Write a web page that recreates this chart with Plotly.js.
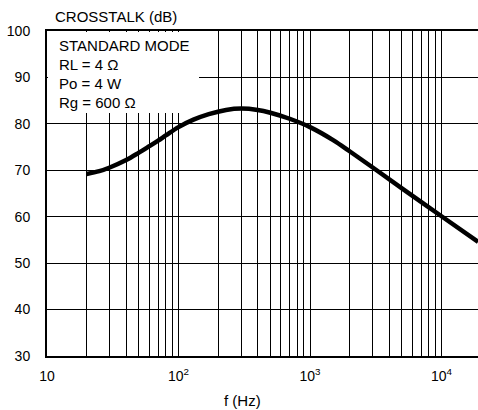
<!DOCTYPE html>
<html>
<head>
<meta charset="utf-8">
<script src="https://cdn.plot.ly/plotly-3.0.1.min.js"></script>
<style>html,body{margin:0;padding:0;background:#fff;}#chart{width:478px;height:410px;}</style>
</head>
<body>
<div id="chart"></div>
<script>
// Data
var freqHz = [20, 25, 30, 40, 50, 60, 70, 80, 100, 130, 170, 230, 300, 400, 500, 700, 1000, 1500, 2000, 3000, 5000, 10000, 19000];
var crosstalkDb = [69.2, 69.8, 70.6, 72.2, 73.8, 75.2, 76.4, 77.5, 79.3, 80.9, 82.1, 83.0, 83.3, 83.0, 82.4, 81.1, 79.3, 76.5, 74.1, 70.6, 66.1, 60.1, 54.6];

var xGridVals = [];
[10, 100, 1000, 10000].forEach(function (d) {
  for (var m = 1; m <= 9; m++) xGridVals.push(d * m);
});
var xTickLabels = {10: "10", 100: "10<sup>2</sup>", 1000: "10<sup>3</sup>", 10000: "10<sup>4</sup>"};
var xTickText = xGridVals.map(function (v) { return xTickLabels[v] || ""; });
var yTickVals = [30, 40, 50, 60, 70, 80, 90, 100];

var infoLines = ["STANDARD MODE", "RL = 4 \u03A9", "Po = 4 W", "Rg = 600 \u03A9"];
var infoCentersPx = [45, 64.5, 83.5, 102.5];

var FONT = "Liberation Sans, Arial, Helvetica, sans-serif";
var L = 47, R = 478, T = 31, B = 356;
function px2x(px) { return (px - L) / (R - L); }
function px2y(py) { return (B - py) / (B - T); }

var annotations = [{
  text: " ", xref: "paper", yref: "paper", x: px2x(48.2), y: px2y(32.2),
  xanchor: "left", yanchor: "top", showarrow: false,
  width: 150.5, height: 80.5, bgcolor: "#fff", borderpad: 0, borderwidth: 0
}];
infoLines.forEach(function (t, i) {
  annotations.push({text: t, xref: "paper", yref: "paper", x: px2x(57), y: px2y(infoCentersPx[i]),
    xanchor: "left", yanchor: "middle", showarrow: false, font: {family: FONT, size: 15, color: "#000"}});
});
annotations.push({text: "CROSSTALK (dB)", xref: "paper", yref: "paper", x: px2x(53), y: px2y(16.5),
  xanchor: "left", yanchor: "middle", showarrow: false, font: {family: FONT, size: 15, color: "#000"}});
annotations.push({text: "f (Hz)", xref: "paper", yref: "paper", x: px2x(242), y: px2y(400.5),
  xanchor: "center", yanchor: "middle", showarrow: false, font: {family: FONT, size: 15, color: "#000"}});

var trace = {
  x: freqHz, y: crosstalkDb, type: "scatter", mode: "lines",
  line: {color: "#000", width: 4.5, shape: "spline", smoothing: 1},
  hoverinfo: "skip"
};

var layout = {
  width: 478, height: 410,
  margin: {l: L, r: 478 - R, t: T, b: 410 - B, pad: 0},
  paper_bgcolor: "#fff", plot_bgcolor: "#fff",
  showlegend: false,
  font: {family: FONT, size: 14, color: "#000"},
  xaxis: {
    type: "log", range: [1, 1 + (R - L) / 131.5],
    tickmode: "array", tickvals: xGridVals, ticktext: xTickText,
    showgrid: true, gridcolor: "#000", gridwidth: 1,
    showline: true, linecolor: "#000", linewidth: 2, mirror: true,
    ticks: "outside", ticklen: 6, tickcolor: "rgba(0,0,0,0)",
    tickfont: {family: FONT, size: 14, color: "#000"},
    zeroline: false, fixedrange: true
  },
  yaxis: {
    range: [30, 100], tickmode: "array", tickvals: yTickVals,
    showgrid: true, gridcolor: "#000", gridwidth: 1,
    showline: true, linecolor: "#000", linewidth: 2, mirror: false,
    ticks: "outside", ticklen: 12, tickcolor: "rgba(0,0,0,0)",
    tickfont: {family: FONT, size: 14, color: "#000"},
    zeroline: false, fixedrange: true
  },
  annotations: annotations
};

Plotly.newPlot("chart", [trace], layout, {displayModeBar: false, staticPlot: true});
</script>
</body>
</html>
